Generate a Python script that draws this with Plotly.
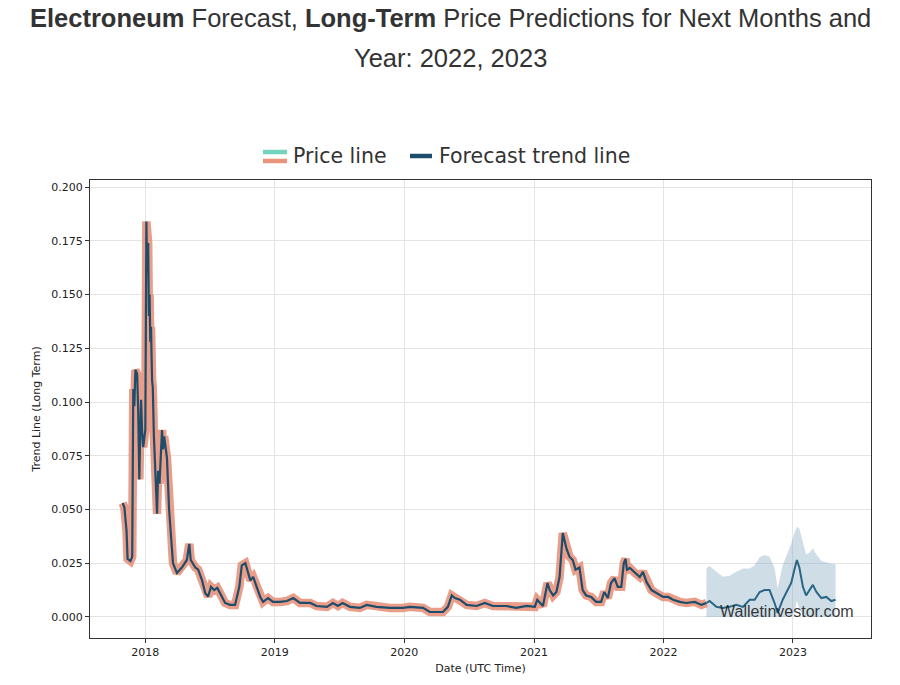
import plotly.graph_objects as go

price_dates = [
    "2017-10-29", "2017-11-03", "2017-11-09", "2017-11-12", "2017-11-20", "2017-11-25",
    "2017-11-28", "2017-12-01", "2017-12-04", "2017-12-09", "2017-12-12", "2017-12-15",
    "2017-12-18", "2017-12-20", "2017-12-23", "2017-12-26", "2018-01-01", "2018-01-04",
    "2018-01-06", "2018-01-09", "2018-01-11", "2018-01-13", "2018-01-15", "2018-01-17",
    "2018-01-20", "2018-01-22", "2018-01-25", "2018-01-29", "2018-02-03", "2018-02-06",
    "2018-02-10", "2018-02-17", "2018-02-20", "2018-02-23", "2018-03-03", "2018-03-09",
    "2018-03-17", "2018-03-20", "2018-03-31", "2018-04-14", "2018-04-28", "2018-05-05",
    "2018-05-09", "2018-05-22", "2018-05-30", "2018-06-10", "2018-06-19", "2018-06-27",
    "2018-07-05", "2018-07-14", "2018-07-23", "2018-08-05", "2018-08-14", "2018-08-28",
    "2018-09-11", "2018-09-23", "2018-09-30", "2018-10-10", "2018-10-16", "2018-10-24",
    "2018-11-01", "2018-11-11", "2018-11-21", "2018-11-29", "2018-12-13", "2018-12-27",
    "2019-01-16", "2019-02-04", "2019-02-22", "2019-03-13", "2019-04-11", "2019-04-29",
    "2019-05-28", "2019-06-14", "2019-06-28", "2019-07-11", "2019-08-01", "2019-08-29",
    "2019-09-17", "2019-10-15", "2019-11-22", "2019-12-28", "2020-01-17", "2020-02-23",
    "2020-03-13", "2020-04-19", "2020-05-03", "2020-05-14", "2020-05-23", "2020-06-06",
    "2020-06-25", "2020-07-23", "2020-08-15", "2020-09-07", "2020-10-15", "2020-11-12",
    "2020-12-11", "2021-01-03", "2021-01-10", "2021-01-26", "2021-02-08", "2021-02-14",
    "2021-02-24", "2021-03-05", "2021-03-14", "2021-03-23", "2021-04-02", "2021-04-11",
    "2021-04-20", "2021-04-28", "2021-05-09", "2021-05-18", "2021-05-28", "2021-06-11",
    "2021-06-25", "2021-07-09", "2021-07-18", "2021-07-28", "2021-08-06", "2021-08-16",
    "2021-08-25", "2021-09-04", "2021-09-11", "2021-09-16", "2021-09-20", "2021-09-28",
    "2021-10-12", "2021-10-26", "2021-11-04", "2021-11-14", "2021-11-28", "2021-12-12",
    "2021-12-31", "2022-01-14", "2022-01-28", "2022-02-16", "2022-03-06", "2022-03-30",
    "2022-04-18", "2022-05-02",
]
price_values = [
    0.053, 0.051, 0.040, 0.027, 0.026, 0.028,
    0.106, 0.098, 0.115, 0.113, 0.095, 0.064,
    0.088, 0.101, 0.086, 0.079, 0.087, 0.184,
    0.160, 0.174, 0.140, 0.150, 0.128, 0.135,
    0.110, 0.107, 0.085, 0.068, 0.048, 0.068,
    0.062, 0.087, 0.078, 0.084, 0.074, 0.050,
    0.030, 0.025, 0.0205, 0.023, 0.0265, 0.034,
    0.0265, 0.023, 0.022, 0.017, 0.011, 0.0095,
    0.014, 0.0125, 0.0135, 0.0095, 0.0065, 0.0056,
    0.0056, 0.014, 0.024, 0.025, 0.021, 0.017,
    0.0186, 0.014, 0.0093, 0.007, 0.0088, 0.007,
    0.007, 0.0074, 0.0088, 0.0065, 0.0065, 0.0051,
    0.0047, 0.0065, 0.0051, 0.0065, 0.0047, 0.0042,
    0.0056, 0.0047, 0.0042, 0.0042, 0.0047, 0.0042,
    0.0023, 0.0023, 0.0047, 0.010, 0.0088, 0.008,
    0.0056, 0.0051, 0.0065, 0.0051, 0.0051, 0.0042,
    0.0051, 0.0047, 0.008, 0.0051, 0.0158, 0.0125,
    0.010, 0.0116, 0.0186, 0.039, 0.032, 0.028,
    0.0265, 0.022, 0.023, 0.0125, 0.010, 0.0093,
    0.007, 0.007, 0.0116, 0.0088, 0.0158, 0.018,
    0.014, 0.014, 0.025, 0.027, 0.022, 0.0228,
    0.0205, 0.0186, 0.021, 0.0163, 0.0125, 0.011,
    0.0093, 0.0093, 0.008, 0.007, 0.0065, 0.007,
    0.0056, 0.0065,
]

forecast_dates = [
    "2022-05-02", "2022-05-11", "2022-05-30", "2022-06-17", "2022-07-06", "2022-07-25",
    "2022-08-13", "2022-09-01", "2022-09-15", "2022-09-29", "2022-10-13", "2022-10-27",
    "2022-11-10", "2022-11-19", "2022-12-03", "2022-12-17", "2022-12-27", "2023-01-05",
    "2023-01-12", "2023-01-19", "2023-01-29", "2023-02-07", "2023-02-17", "2023-02-26",
    "2023-03-08", "2023-03-22", "2023-04-05", "2023-04-19", "2023-05-01",
]
forecast_trend = [
    0.0065, 0.0074, 0.0047, 0.0042, 0.0047, 0.0056,
    0.0047, 0.008, 0.008, 0.0116, 0.0125, 0.0125,
    0.0065, 0.0019, 0.008, 0.0125, 0.0158, 0.022,
    0.0265, 0.023, 0.014, 0.010, 0.0125, 0.0149,
    0.0116, 0.0088, 0.0093, 0.0074, 0.008,
]
forecast_upper = [
    0.0228, 0.0237, 0.021, 0.0188, 0.019, 0.021,
    0.0225, 0.0225, 0.024, 0.0278, 0.0288, 0.028,
    0.0228, 0.0135, 0.024, 0.030, 0.034, 0.039,
    0.042, 0.041, 0.034, 0.029, 0.030, 0.032,
    0.029, 0.026, 0.0255, 0.0248, 0.0246,
]
forecast_lower = [
    0.0, 0.0, 0.0, 0.0, 0.0, 0.0,
    0.0, 0.0, 0.0, 0.0, 0.0, 0.0,
    0.0, 0.0, 0.0, 0.0, 0.0, 0.002,
    0.0075, 0.004, 0.0, 0.0, 0.0, 0.0,
    0.0, 0.0, 0.0, 0.0, 0.0,
]

year_ticks = ["2018-01-01", "2019-01-01", "2020-01-01", "2021-01-01", "2022-01-01", "2023-01-01"]
year_labels = ["2018", "2019", "2020", "2021", "2022", "2023"]
y_ticks = [0.0, 0.025, 0.05, 0.075, 0.1, 0.125, 0.15, 0.175, 0.2]

SALMON = "#e8937c"
TEAL = "#74d3bd"
DARK = "#1d4d6b"
FORE = "#2b6686"

fig = go.Figure()

# forecast band
fig.add_trace(go.Scatter(x=forecast_dates, y=forecast_lower, mode="lines",
                         line=dict(width=0, color="rgba(0,0,0,0)"), showlegend=False,
                         hoverinfo="skip"))
fig.add_trace(go.Scatter(x=forecast_dates, y=forecast_upper, mode="lines", fill="tonexty",
                         fillcolor="rgba(130,166,188,0.38)",
                         line=dict(width=0, color="rgba(0,0,0,0)"), showlegend=False,
                         hoverinfo="skip"))

# price line (thick salmon halo + dark core)
fig.add_trace(go.Scatter(x=price_dates, y=price_values, mode="lines",
                         line=dict(color=SALMON, width=8.5), opacity=0.9,
                         showlegend=False))
fig.add_trace(go.Scatter(x=price_dates, y=price_values, mode="lines",
                         line=dict(color=DARK, width=2.2), showlegend=False))

# forecast trend line
fig.add_trace(go.Scatter(x=forecast_dates, y=forecast_trend, mode="lines",
                         line=dict(color=FORE, width=2), showlegend=False))

title_font = dict(family="Liberation Sans, Arial, sans-serif", size=25.5, color="#333333")
legend_font = dict(family="DejaVu Sans, sans-serif", size=20.5, color="#333333")

annotations = [
    dict(text="<b>Electroneum</b> Forecast, <b>Long-Term</b> Price Predictions for Next Months and",
         xref="paper", yref="paper", x=0.461, y=1.3537, xanchor="center", yanchor="middle",
         showarrow=False, font=title_font),
    dict(text="Year: 2022, 2023",
         xref="paper", yref="paper", x=0.461, y=1.2664, xanchor="center", yanchor="middle",
         showarrow=False, font=title_font),
    dict(text="Price line", xref="paper", yref="paper", x=0.2575, y=1.0524,
         xanchor="left", yanchor="middle", showarrow=False, font=legend_font),
    dict(text="Forecast trend line", xref="paper", yref="paper", x=0.4445, y=1.0524,
         xanchor="left", yanchor="middle", showarrow=False, font=legend_font),
    dict(text="Walletinvestor.com", xref="paper", yref="paper", x=0.8925, y=0.058,
         xanchor="center", yanchor="middle", showarrow=False,
         font=dict(family="Liberation Sans, Arial, sans-serif", size=16, color="rgba(30,30,30,0.9)")),
]

shapes = [
    dict(type="line", xref="paper", yref="paper", x0=0.2215, x1=0.2522, y0=1.0611, y1=1.0611,
         line=dict(color=TEAL, width=4.5)),
    dict(type="line", xref="paper", yref="paper", x0=0.2215, x1=0.2522, y0=1.0415, y1=1.0415,
         line=dict(color=SALMON, width=4.5)),
    dict(type="line", xref="paper", yref="paper", x0=0.4097, x1=0.4379, y0=1.0524, y1=1.0524,
         line=dict(color=DARK, width=4.5)),
]

axis_font = dict(family="DejaVu Sans, sans-serif", size=11, color="#222222")

fig.update_layout(
    width=900, height=685,
    margin=dict(l=82, r=37, t=172, b=55),
    paper_bgcolor="white", plot_bgcolor="white",
    showlegend=False,
    annotations=annotations,
    shapes=shapes,
    xaxis=dict(
        range=["2017-07-29", "2023-08-09"],
        tickmode="array", tickvals=year_ticks, ticktext=year_labels,
        showgrid=True, gridcolor="#e4e4e4", gridwidth=1,
        showline=True, linecolor="#333333", linewidth=1.2, mirror=True,
        ticks="outside", ticklen=4, tickcolor="#333333",
        tickfont=axis_font, zeroline=False,
        title=dict(text="Date (UTC Time)", font=axis_font, standoff=6),
    ),
    yaxis=dict(
        range=[-0.0098, 0.2033],
        tickmode="array", tickvals=y_ticks, tickformat=".3f",
        showgrid=True, gridcolor="#e4e4e4", gridwidth=1,
        showline=True, linecolor="#333333", linewidth=1.2, mirror=True,
        ticks="outside", ticklen=4, tickcolor="#333333",
        tickfont=axis_font, zeroline=False,
        title=dict(text="Trend Line (Long Term)", font=axis_font, standoff=8),
    ),
)

fig.write_html("out.html")
